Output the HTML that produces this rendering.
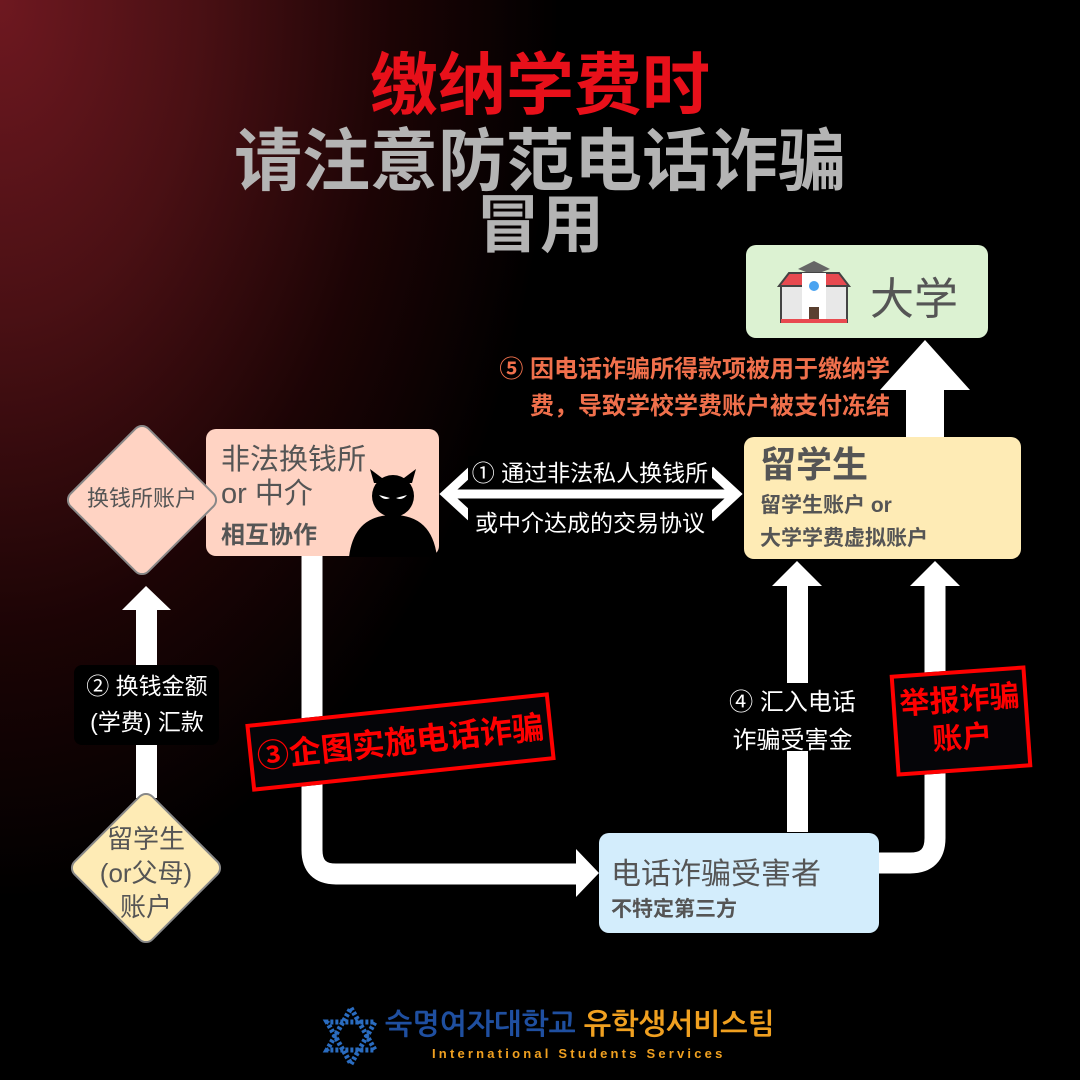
<!DOCTYPE html>
<html><head><meta charset="utf-8"><style>
*{margin:0;padding:0;box-sizing:border-box}
body{width:1080px;height:1080px;overflow:hidden;background:#000;font-family:"Liberation Sans","Noto Sans CJK SC",sans-serif;position:relative}
.bg{position:absolute;inset:0;background:radial-gradient(ellipse 560px 900px at 0 0,#6e1820 0%,#4a1014 35%,#1c0405 70%,#000 100%)}
.a{position:absolute}
.t{position:absolute;left:0;width:1080px;text-align:center;font-weight:bold;line-height:1;white-space:nowrap}
.box{position:absolute;border-radius:10px;color:#555}
.dia{position:absolute;transform:rotate(45deg);border-radius:10px;border:2px solid #888}
.dl{position:absolute;text-align:center;color:#555;line-height:1.25}
.w{color:#fff;font-weight:bold}
</style></head><body>
<div class="bg"></div>
<div class="t" style="top:52px;font-size:68px;color:#e8101a;">缴纳学费时</div>
<div class="t" style="top:128px;font-size:68px;color:#b4b4b4;">请注意防范电话诈骗</div>
<div class="t" style="top:193px;font-size:64px;color:#b4b4b4;">冒用</div>

<svg class="a" style="left:0;top:0" width="1080" height="1080">
 <g fill="#fff">
  <rect x="906" y="385" width="38" height="55"/>
  <polygon points="925,340 880,390 970,390"/>
  <rect x="136" y="608" width="21" height="190"/>
  <polygon points="146,586 122,610 171,610"/>
  <rect x="787" y="582" width="21" height="250"/>
  <polygon points="797,561 772,586 822,586"/>
  <polygon points="935,561 910,586 960,586"/>
  <polygon points="576,849 576,897 599,873"/>
 </g>
 <path d="M312 555 V850 Q312 874 336 874 H578" stroke="#fff" stroke-width="21" fill="none"/>
 <path d="M878 863 H910 Q935 863 935 838 V584" stroke="#fff" stroke-width="21" fill="none"/>
 <g stroke="#fff" stroke-width="9" fill="none">
  <line x1="448" y1="494" x2="734" y2="494"/>
  <polyline points="472,470 446,494 472,518"/>
  <polyline points="710,470 736,494 710,518"/>
 </g>
</svg>

<div class="a" style="left:468px;top:456px;width:244px;height:32px;background:#000"></div>
<div class="a" style="left:468px;top:505px;width:244px;height:34px;background:#000"></div>
<div class="a" style="left:440px;top:448px;width:300px;text-align:center;font-size:23px;line-height:50px;color:#fff">① 通过非法私人换钱所<br>或中介达成的交易协议</div>

<div class="box" style="left:746px;top:245px;width:242px;height:93px;background:#dcf2d2;">
 <svg class="a" style="left:28px;top:6px" width="80" height="80" viewBox="0 0 80 80">
  <polygon points="24,18 40,10 56,18 40,24" fill="#666"/><rect x="32" y="18" width="16" height="8" fill="#666"/>
  <polygon points="5,35 15,22 65,22 75,35" fill="#e84a50" stroke="#444" stroke-width="2"/>
  <rect x="7" y="35" width="66" height="36" fill="#e8e8e8" stroke="#444" stroke-width="2"/>
  <rect x="28" y="22" width="24" height="49" fill="#fff"/>
  <circle cx="40" cy="35" r="5" fill="#4aa3f0"/>
  <rect x="35" y="56" width="10" height="15" fill="#5a4030"/>
  <rect x="7" y="68" width="66" height="4" fill="#e84a50"/>
 </svg>
 <div class="a" style="left:124px;top:18px;font-size:44px;color:#555">大学</div>
</div>

<div class="a" style="left:470px;top:351px;width:420px;text-align:right;font-size:24px;font-weight:bold;color:#f0704c;line-height:37px">⑤ 因电话诈骗所得款项被用于缴纳学<br>费，导致学校学费账户被支付冻结</div>

<div class="box" style="left:744px;top:437px;width:277px;height:122px;background:#feebb5;">
 <div class="a" style="left:16px;top:8px;font-size:36px;font-weight:bold;line-height:1.1">留学生</div>
 <div class="a" style="left:16px;top:52px;font-size:21px;font-weight:bold;line-height:33px">留学生账户 or<br>大学学费虚拟账户</div>
</div>

<div class="box" style="left:206px;top:429px;width:233px;height:127px;background:#ffd3c3;">
 <div class="a" style="left:15px;top:14px;font-size:29px;line-height:34px">非法换钱所<br>or 中介</div>
 <div class="a" style="left:15px;top:86px;font-size:24px;font-weight:bold">相互协作</div>
 <svg class="a" style="left:140px;top:40px" width="95" height="90" viewBox="0 0 95 90">
  <path d="M3 88 Q8 46 47 46 Q86 46 91 88 Z" fill="#000"/>
  <polygon points="28,14 24,0 36,9 58,9 70,0 66,14" fill="#000"/>
  <circle cx="47" cy="27" r="21" fill="#000"/>
  <path d="M33 26 Q38 32 44 29 Z M61 26 Q56 32 50 29 Z" fill="#fff"/>
 </svg>
</div>

<div class="dia" style="left:86px;top:444px;width:112px;height:112px;background:#ffd3c3"></div>
<div class="dl" style="left:62px;top:485px;width:160px;font-size:22px">换钱所账户</div>

<div class="a w" style="left:74px;top:665px;width:145px;height:80px;background:#000;border-radius:8px"></div>
<div class="a w" style="left:62px;top:668px;width:170px;text-align:center;font-size:23px;line-height:36px;font-weight:normal">② 换钱金额<br>(学费) 汇款</div>

<div class="dia" style="left:90px;top:812px;width:112px;height:112px;background:#feebb5"></div>
<div class="dl" style="left:66px;top:822px;width:160px;font-size:26px;line-height:34px">留学生<br>(or父母)<br>账户</div>

<div class="a" style="left:248px;top:708px;width:305px;height:68px;border:4px solid #f00;background:#050508;transform:rotate(-6deg);color:#f00;font-size:32px;font-weight:bold;text-align:center;line-height:60px;white-space:nowrap">③企图实施电话诈骗</div>

<div class="a" style="left:720px;top:683px;width:145px;height:68px;background:#000"></div>
<div class="a" style="left:715px;top:684px;width:155px;text-align:center;font-size:24px;line-height:38px;color:#fff">④ 汇入电话<br>诈骗受害金</div>

<div class="a" style="left:893px;top:670px;width:136px;height:102px;border:4px solid #f00;background:#050508;transform:rotate(-4deg);color:#f00;font-size:30px;font-weight:bold;text-align:center;line-height:38px;padding-top:8px">举报诈骗<br>账户</div>

<div class="box" style="left:599px;top:833px;width:280px;height:100px;background:#d3edfc;">
 <div class="a" style="left:12px;top:16px;font-size:30px;white-space:nowrap">电话诈骗受害者</div>
 <div class="a" style="left:12px;top:60px;font-size:21px;font-weight:bold">不特定第三方</div>
</div>

<svg class="a" style="left:322px;top:1006px" width="58" height="60" viewBox="0 0 58 60">
 <polygon points="29,2 53,44 5,44" fill="none" stroke="#2a6cc0" stroke-width="5" stroke-dasharray="3 2"/>
 <polygon points="29,58 53,16 5,16" fill="none" stroke="#2a6cc0" stroke-width="5" stroke-dasharray="3 2"/>
</svg>
<div class="a" style="left:385px;top:1009px;font-size:29px;font-weight:bold;color:#1f4fa0;font-family:'Liberation Sans','NanumGothic','Noto Sans CJK KR',sans-serif">숙명여자대학교 <span style="color:#f0a020">유학생서비스팀</span></div>
<div class="a" style="left:432px;top:1046px;font-size:13px;font-weight:bold;color:#f0a020;letter-spacing:3.2px">International Students Services</div>
</body></html>
